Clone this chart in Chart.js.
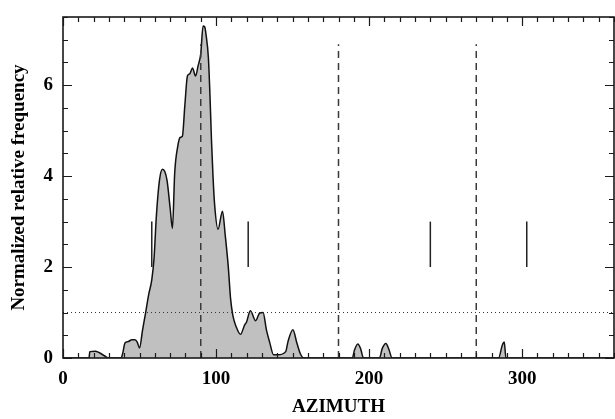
<!DOCTYPE html>
<html>
<head>
<meta charset="utf-8">
<script src="https://cdn.jsdelivr.net/npm/chart.js@4"></script>
<style>
  html, body { margin: 0; padding: 0; background: #fff; }
  #wrap { width: 615px; height: 419px; }
</style>
</head>
<body>
<div id="wrap"><canvas id="grafico"></canvas></div>
<script>
// curve
var azimuth = [0, 17, 17.5, 21, 24, 27, 30, 38, 39, 40.5, 42.5, 45, 47, 48.5, 50, 52, 54, 56, 58, 59.5, 61, 63, 65, 66.5, 68, 70, 71.5, 73, 75, 76.5, 78, 79.6, 81.3, 82.8, 84.6, 86.6, 88.3, 90, 91.5, 92.6, 93.5, 95, 96, 97, 98, 99, 101.3, 104.2, 106, 108, 109.5, 111, 113, 116, 118.7, 119.8, 122.4, 125.9, 128.5, 130.7, 132.9, 135, 137.6, 140.5, 145.5, 147, 150.2, 152.8, 155, 157.2, 189, 190.5, 192.6, 194.5, 196.3, 206.8, 208.5, 211, 213, 215, 284.6, 287, 288.3, 289.4, 360];
var freq =    [0, 0, 0.14, 0.15, 0.11, 0.05, 0, 0, 0.1, 0.33, 0.36, 0.40, 0.40, 0.35, 0.22, 0.62, 1.0, 1.4, 1.72, 2.2, 3.12, 3.9, 4.15, 4.1, 3.9, 3.3, 2.85, 4.08, 4.66, 4.85, 4.88, 5.55, 6.2, 6.25, 6.38, 6.2, 6.43, 6.69, 7.3, 7.28, 7.1, 6.6, 5.8, 4.8, 4.0, 3.4, 2.83, 3.23, 2.7, 2.0, 1.3, 0.93, 0.7, 0.52, 0.73, 0.78, 1.04, 0.82, 0.99, 1.0, 0.62, 0.35, 0.07, 0.07, 0.14, 0.36, 0.62, 0.33, 0.1, 0, 0, 0.18, 0.31, 0.2, 0, 0, 0.2, 0.32, 0.18, 0, 0, 0.28, 0.35, 0, 0];

var dashedAz = [90, 180, 270];
var dashedTop = 6.9;
var markerAz = [58, 121, 240, 303];
var markerLow = 2;
var markerHigh = 3;
var refLevel = 1;

var xTicks = [0, 100, 200, 300];
var yTicks = [0, 2, 4, 6];

var fontAssi = { family: '"Liberation Serif", "Times New Roman", serif', size: 19, weight: 'bold' };

function punti(xs, ys) {
  return xs.map(function (x, i) { return { x: x, y: ys[i] }; });
}

var datasets = [{
  data: punti(azimuth, freq),
  borderColor: '#111',
  borderWidth: 1.5,
  backgroundColor: '#c0c0c0',
  fill: 'origin',
  pointRadius: 0,
  cubicInterpolationMode: 'monotone',
  order: 10
}];

dashedAz.forEach(function (a) {
  datasets.push({
    data: [{ x: a, y: 0 }, { x: a, y: dashedTop }],
    borderColor: '#3a3a3a',
    borderWidth: 1.5,
    borderDash: [7, 5],
    pointRadius: 0,
    fill: false,
    order: 1
  });
});

datasets.push({
  data: [{ x: 0, y: refLevel }, { x: 360, y: refLevel }],
  borderColor: '#333',
  borderWidth: 1,
  borderDash: [1, 3],
  pointRadius: 0,
  fill: false,
  order: 2
});

markerAz.forEach(function (a) {
  datasets.push({
    data: [{ x: a, y: markerLow }, { x: a, y: markerHigh }],
    borderColor: '#222',
    borderWidth: 1.5,
    pointRadius: 0,
    fill: false,
    order: 1
  });
});

// frame with inward ticks on all four sides
var cornice = {
  id: 'cornice',
  afterDatasetsDraw: function (chart) {
    var ctx = chart.ctx, a = chart.chartArea;
    var sx = chart.scales.x, sy = chart.scales.y;
    ctx.save();
    ctx.strokeStyle = '#1a1a1a';
    ctx.lineWidth = 1.2;
    var v, p, len;
    for (v = 0; v <= 360; v += 10) {
      p = Math.round(sx.getPixelForValue(v)) + 0.5;
      len = (v % 100 === 0) ? 9 : 5;
      ctx.beginPath();
      ctx.moveTo(p, a.bottom); ctx.lineTo(p, a.bottom - len);
      ctx.moveTo(p, a.top); ctx.lineTo(p, a.top + len);
      ctx.stroke();
    }
    for (v = 0; v <= 7.5; v += 0.5) {
      p = Math.round(sy.getPixelForValue(v)) + 0.5;
      len = (v % 2 === 0) ? 9 : 5;
      ctx.beginPath();
      ctx.moveTo(a.left, p); ctx.lineTo(a.left + len, p);
      ctx.moveTo(a.right, p); ctx.lineTo(a.right - len, p);
      ctx.stroke();
    }
    ctx.lineWidth = 1.6;
    ctx.strokeRect(a.left, a.top, a.right - a.left, a.bottom - a.top);
    ctx.restore();
  }
};

new Chart(document.getElementById('grafico'), {
  type: 'line',
  data: { datasets: datasets },
  options: {
    responsive: true,
    maintainAspectRatio: false,
    animation: false,
    layout: { padding: { top: 17, right: 1, left: 0, bottom: 0 } },
    plugins: { legend: { display: false }, tooltip: { enabled: false } },
    scales: {
      x: {
        type: 'linear',
        min: 0,
        max: 360,
        grid: { display: false, drawTicks: false },
        border: { display: false },
        ticks: { stepSize: 100, padding: 10, color: '#000', font: fontAssi, maxRotation: 0 },
        afterBuildTicks: function (s) {
          s.ticks = xTicks.map(function (v) { return { value: v }; });
        },
        afterFit: function (s) { s.height = 61; s.paddingLeft = 0; s.paddingRight = 0; },
        title: { display: true, text: 'AZIMUTH', color: '#000', font: fontAssi, padding: { top: 1, bottom: 1 } }
      },
      y: {
        min: 0,
        max: 7.5,
        grid: { display: false, drawTicks: false },
        border: { display: false },
        ticks: { stepSize: 2, padding: 10, color: '#000', font: fontAssi },
        afterBuildTicks: function (s) {
          s.ticks = yTicks.map(function (v) { return { value: v }; });
        },
        afterFit: function (s) { s.width = 63; s.paddingTop = 0; s.paddingBottom = 0; },
        title: { display: true, text: 'Normalized relative frequency', color: '#000', font: fontAssi, padding: { top: 8, bottom: 8 } }
      }
    }
  },
  plugins: [cornice]
});
</script>
</body>
</html>
